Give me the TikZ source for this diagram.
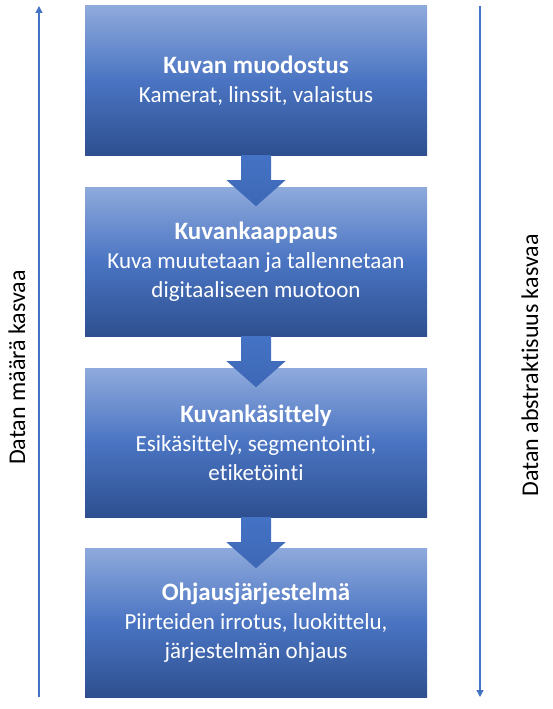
\documentclass[tikz,border=0pt]{standalone}
\usepackage{fontspec}
\setmainfont{Carlito}[Ligatures={NoCommon}]
\usetikzlibrary{calc,arrows.meta}
\definecolor{boxtop}{HTML}{8FAADC}
\definecolor{boxmid}{HTML}{4A74C2}
\definecolor{boxbot}{HTML}{2E5090}
\definecolor{arrblue}{HTML}{4472C4}
\definecolor{arrdark}{HTML}{3E68B6}
\tikzset{
  stagebox/.style={rectangle, minimum width=342pt, minimum height=149pt, inner sep=0pt,
    top color=boxtop, bottom color=boxbot, middle color=boxmid, text=white, align=center,
    font=\fontsize{23}{29}\selectfont},
  sidearrow/.style={draw=arrblue, line width=1.3pt, -{Triangle[length=7pt,width=7pt]}},
  sidelabel/.style={rotate=90, anchor=base, font=\fontsize{24}{29}\selectfont, text=black},
  blockarrow/.style={top color=arrblue, bottom color=arrdark, draw=none}
}
\newcommand{\ttlfont}{\fontsize{25}{29}\selectfont\bfseries}
\newcommand{\blockarr}[1]{%
  \path[blockarrow] ($(#1)+(-15,0)$) -- ++(0,25) -- ++(-14.5,0) -- ($(#1)+(0,51)$)
    -- ($(#1)+(29.5,25)$) -- ++(-14.5,0) -- ($(#1)+(15,0)$) -- cycle;}
\begin{document}
\begin{tikzpicture}[x=1pt,y=-1pt]
\useasboundingbox (0,0) rectangle (553,709);
\node[stagebox] (b1) at (256,80.5) {{\ttlfont Kuvan muodostus}\\Kamerat, linssit, valaistus};
\node[stagebox] (b2) at (256,261.5) {{\ttlfont Kuvankaappaus}\\Kuva muutetaan ja tallennetaan\\digitaaliseen muotoon};
\node[stagebox] (b3) at (256,442.5) {{\ttlfont Kuvankäsittely}\\Esikäsittely, segmentointi,\\etiketöinti};
\node[stagebox] (b4) at (256,622.5) {{\ttlfont Ohjausjärjestelmä}\\Piirteiden irrotus, luokittelu,\\järjestelmän ohjaus};
\blockarr{b1.south}
\blockarr{b2.south}
\blockarr{b3.south}
\coordinate (lbot) at (39,697);
\coordinate (ltop) at (39,6);
\coordinate (rtop) at (480,6);
\coordinate (rbot) at (480,697);
\draw[sidearrow] (lbot) -- (ltop);
\draw[sidearrow] (rtop) -- (rbot);
\node[sidelabel] (ll) at (25,367.5) {Datan määrä kasvaa};
\node[sidelabel] (rl) at (538,365.5) {Datan abstraktisuus kasvaa};
\end{tikzpicture}
\end{document}
